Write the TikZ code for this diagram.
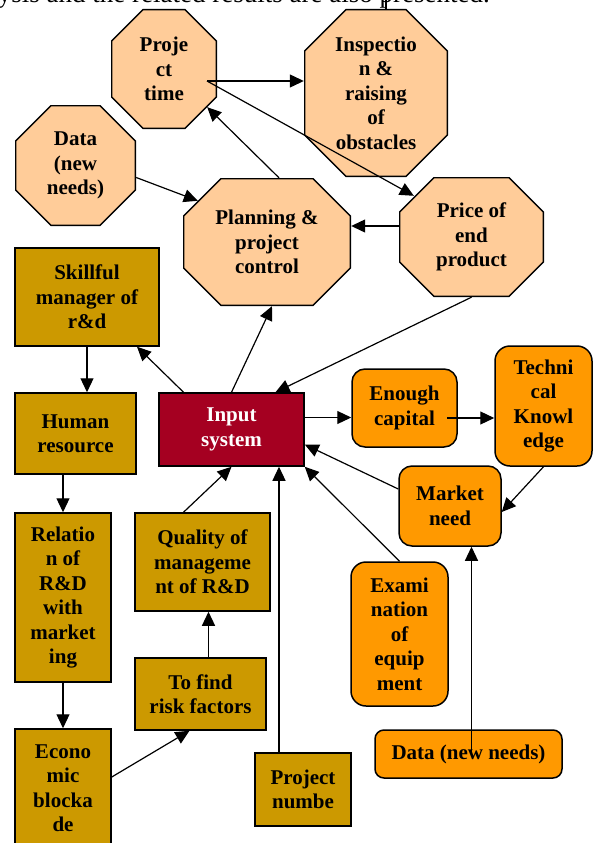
\documentclass[tikz,border=0pt]{standalone}
\usepackage{fontspec}
\setmainfont{Liberation Serif}
\usepackage{tikz}
\usetikzlibrary{arrows.meta}
\definecolor{peach}{HTML}{FFCC99}
\definecolor{gold}{HTML}{CC9900}
\definecolor{wine}{HTML}{A50021}
\definecolor{amber}{HTML}{FF9900}

\begin{document}
\begin{tikzpicture}[x=1pt,y=-1pt,
  every node/.style={font=\bfseries\fontsize{21}{24.5}\selectfont,align=center,inner sep=0pt},
  oct/.style={rectangle,path picture={
    \path[fill=peach,draw,line width=1.3pt]
      ([xshift=#1,yshift=-.65pt]path picture bounding box.north west)
      -- ([xshift=-#1,yshift=-.65pt]path picture bounding box.north east)
      -- ([xshift=-.65pt,yshift=-#1]path picture bounding box.north east)
      -- ([xshift=-.65pt,yshift=#1]path picture bounding box.south east)
      -- ([xshift=-#1,yshift=.65pt]path picture bounding box.south east)
      -- ([xshift=#1,yshift=.65pt]path picture bounding box.south west)
      -- ([xshift=.65pt,yshift=#1]path picture bounding box.south west)
      -- ([xshift=.65pt,yshift=-#1]path picture bounding box.north west) -- cycle;}},
  goldbox/.style={rectangle,draw,line width=1.5pt,fill=gold},
  orbox/.style={rectangle,rounded corners=13pt,draw,line width=1.5pt,fill=amber},
  arr/.style={-{Triangle[length=14pt,width=13pt]},line width=1.2pt}]
\useasboundingbox (0,0) rectangle (597,843);
\clip (0,0) rectangle (597,843);

% page text above the figure
\node[font=\fontsize{27}{30}\selectfont,anchor=base east] (cap) at (490,3) {ysis and the related results are also presented.};

% octagons
\node[oct=32pt,minimum width=106pt,minimum height=120pt] (ptime) at (164,69) {Proje\\ct\\time};
\node[oct=42pt,minimum width=144pt,minimum height=168pt] (insp) at (376,93) {Inspectio\\n \&\\raising\\of\\obstacles};
\node[oct=36pt,minimum width=121pt,minimum height=121pt] (datao) at (75.5,165.5) {Data\\(new\\needs)};
\node[oct=38pt,minimum width=168pt,minimum height=128pt] (plan) at (267,242) {Planning \&\\project\\control};
\node[oct=35pt,minimum width=145pt,minimum height=120pt] (price) at (471.5,237) {Price of\\end\\product};

% gold boxes
\node[goldbox,minimum width=144pt,minimum height=98pt] (skill) at (87,297) {Skillful\\manager of\\r\&d};
\node[goldbox,minimum width=121pt,minimum height=81pt] (human) at (75.5,433.5) {Human\\resource};
\node[goldbox,fill=wine,text=white,minimum width=145pt,minimum height=73pt] (input) at (231.5,429.5) {Input\\system};
\node[goldbox,minimum width=96pt,minimum height=169pt] (rel) at (63,597.5) {Relatio\\n of\\R\&D\\with\\market\\ing};
\node[goldbox,minimum width=135pt,minimum height=98pt] (qual) at (202.5,562) {Quality of\\manageme\\nt of R\&D};
\node[goldbox,minimum width=131pt,minimum height=72pt] (risk) at (200.5,694) {To find\\risk factors};
\node[goldbox,minimum width=96pt,minimum height=118pt] (econ) at (63,788) {Econo\\mic\\blocka\\de};
\node[goldbox,minimum width=96pt,minimum height=73pt] (pnum) at (303,789.5) {Project\\numbe};

% orange boxes
\node[orbox,minimum width=105pt,minimum height=78pt] (enough) at (404.5,408) {Enough\\capital};
\node[orbox,rounded corners=15pt,minimum width=97pt,minimum height=120pt] (tech) at (543.5,406) {Techni\\cal\\Knowl\\edge};
\node[orbox,minimum width=102pt,minimum height=80pt] (market) at (450,506) {Market\\need};
\node[orbox,rounded corners=15pt,minimum width=97pt,minimum height=144pt] (exam) at (399.5,634) {Exami\\nation\\of\\equip\\ment};
\node[orbox,rounded corners=9pt,minimum width=187pt,minimum height=48pt] (datan) at (468.5,754) {Data (new needs)};

% arrows
\coordinate (pt) at (207,81);
\coordinate (ec) at (447,418);
\draw[arr] (pt) -- (pt -| insp.west);
\draw[arr] (pt) -- ([shift={(15,19)}]price.north west);
\draw[arr] ([xshift=12pt]plan.north) -- ([shift={(-10,-22)}]ptime.south east);
\draw[arr] ([yshift=-12pt]datao.east) -- ([shift={(15,23)}]plan.north west);
\draw[arr] ([yshift=11pt]price.west) -- ([yshift=11pt]price.west -| plan.east);
\draw[arr] (price.south) -- ([xshift=44pt]input.north);
\draw[arr] ([xshift=-48pt]input.north) -- ([xshift=50pt]skill.south);
\draw[arr] (input.north) -- ([xshift=5pt]plan.south);
\draw[arr] (skill.south) -- (skill.south |- human.north);
\draw[arr] (rel.north |- human.south) -- (rel.north);
\draw[arr] (rel.south) -- (econ.north);
\draw[arr] ([yshift=11pt]econ.east) -- ([xshift=-11pt]risk.south);
\draw[arr] ([xshift=8pt]risk.north) -- ([xshift=8pt]risk.north |- qual.south);
\draw[arr] ([xshift=-19pt]qual.north) -- (input.south);
\draw[arr] ([xshift=-24pt]pnum.north) -- ([xshift=-24pt]pnum.north |- input.south);
\draw[arr] ([yshift=12pt]input.east) -- ([yshift=12pt]input.east -| enough.west);
\draw[arr] (ec) -- (ec -| tech.west);
\draw[arr] (tech.south) -- ([yshift=-6pt]market.east);
\draw[arr] ([yshift=17pt]market.west) -- ([yshift=-15pt]input.east);
\draw[arr] (exam.north) -- (input.south east);
\draw[arr] ([xshift=3pt]datan.center) -- ([xshift=3pt]datan.center |- market.south);
\draw[line width=1.2pt] ([xshift=10pt]insp.north) -- ++(0,-12);
\end{tikzpicture}
\end{document}
